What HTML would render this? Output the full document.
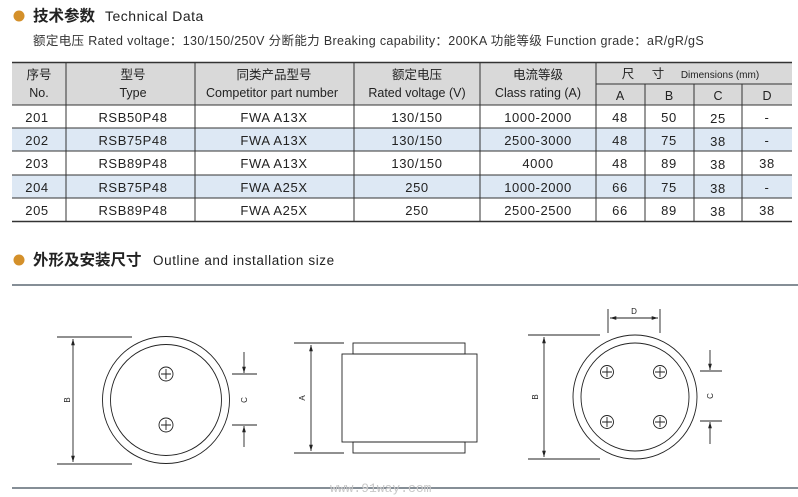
<!DOCTYPE html>
<html><head><meta charset="utf-8"><style>
html,body{margin:0;padding:0;background:#fff;}
svg{display:block;font-family:"Liberation Sans","Noto Sans CJK SC",sans-serif;}
</style></head><body>
<svg width="798" height="497" viewBox="0 0 798 497" xmlns="http://www.w3.org/2000/svg">
<defs>
<marker id="ar" viewBox="0 0 10 10" refX="10" refY="5" markerWidth="7" markerHeight="7" orient="auto-start-reverse"><path d="M0,2 L10,5 L0,8 z" fill="#222"/></marker>
</defs>
<circle cx="19" cy="16" r="5.5" fill="#d4902a"/>
<text x="33" y="21" font-size="15.5" font-weight="bold" fill="#222">技术参数</text>
<text x="105" y="21" font-size="14" fill="#222" letter-spacing="0.5">Technical  Data</text>
<text x="33" y="45" font-size="12.5" fill="#333" letter-spacing="0.35">额定电压 Rated voltage：130/150/250V  分断能力 Breaking capability：200KA  功能等级 Function grade：aR/gR/gS</text>

<rect x="12" y="62" width="780" height="43" fill="#d9d9d9"/>
<rect x="12" y="128" width="780" height="23" fill="#dde8f4"/>
<rect x="12" y="175" width="780" height="23" fill="#dde8f4"/>
<g stroke="#333" stroke-width="1">
<line x1="12" y1="62.5" x2="792" y2="62.5" stroke-width="1.5"/>
<line x1="12" y1="105" x2="792" y2="105"/>
<line x1="12" y1="128" x2="792" y2="128"/>
<line x1="12" y1="151" x2="792" y2="151"/>
<line x1="12" y1="175" x2="792" y2="175"/>
<line x1="12" y1="198" x2="792" y2="198"/>
<line x1="12" y1="221.5" x2="792" y2="221.5" stroke-width="1.5"/>
<line x1="596" y1="84" x2="792" y2="84"/>
<line x1="66" y1="62" x2="66" y2="222"/>
<line x1="195" y1="62" x2="195" y2="222"/>
<line x1="354" y1="62" x2="354" y2="222"/>
<line x1="480" y1="62" x2="480" y2="222"/>
<line x1="596" y1="62" x2="596" y2="222"/>
<line x1="645" y1="84" x2="645" y2="222"/>
<line x1="694" y1="84" x2="694" y2="222"/>
<line x1="742" y1="84" x2="742" y2="222"/>
</g>
<g font-size="12.5" fill="#222" text-anchor="middle">
<text x="39" y="79">序号</text><text x="39" y="97">No.</text>
<text x="133" y="79">型号</text><text x="133" y="97">Type</text>
<text x="274" y="79">同类产品型号</text><text x="272" y="97">Competitor part number</text>
<text x="417" y="79">额定电压</text><text x="417" y="97">Rated voltage (V)</text>
<text x="538" y="79">电流等级</text><text x="538" y="97">Class rating (A)</text>
<text x="628" y="78">尺</text><text x="658" y="78">寸</text>
<text x="720" y="78" font-size="10">Dimensions (mm)</text>
<text x="620" y="100">A</text><text x="669" y="100">B</text><text x="718" y="100">C</text><text x="767" y="100">D</text>
</g>
<g font-size="13" fill="#222" text-anchor="middle" letter-spacing="0.6">
<text x="37" y="122">201</text><text x="133" y="122">RSB50P48</text><text x="274" y="122">FWA A13X</text><text x="417" y="122">130/150</text><text x="538" y="122">1000-2000</text><text x="620" y="122">48</text><text x="669" y="122">50</text><text x="718" y="123">25</text><text x="767" y="122">-</text>
<text x="37" y="145">202</text><text x="133" y="145">RSB75P48</text><text x="274" y="145">FWA A13X</text><text x="417" y="145">130/150</text><text x="538" y="145">2500-3000</text><text x="620" y="145">48</text><text x="669" y="145">75</text><text x="718" y="146">38</text><text x="767" y="145">-</text>
<text x="37" y="168">203</text><text x="133" y="168">RSB89P48</text><text x="274" y="168">FWA A13X</text><text x="417" y="168">130/150</text><text x="538" y="168">4000</text><text x="620" y="168">48</text><text x="669" y="168">89</text><text x="718" y="169">38</text><text x="767" y="168">38</text>
<text x="37" y="192">204</text><text x="133" y="192">RSB75P48</text><text x="274" y="192">FWA A25X</text><text x="417" y="192">250</text><text x="538" y="192">1000-2000</text><text x="620" y="192">66</text><text x="669" y="192">75</text><text x="718" y="193">38</text><text x="767" y="192">-</text>
<text x="37" y="215">205</text><text x="133" y="215">RSB89P48</text><text x="274" y="215">FWA A25X</text><text x="417" y="215">250</text><text x="538" y="215">2500-2500</text><text x="620" y="215">66</text><text x="669" y="215">89</text><text x="718" y="216">38</text><text x="767" y="215">38</text>
</g>

<circle cx="19" cy="260" r="5.5" fill="#d4902a"/>
<text x="33" y="265" font-size="15.5" font-weight="bold" fill="#222">外形及安装尺寸</text>
<text x="153" y="265" font-size="13.5" fill="#222" letter-spacing="0.6">Outline  and  installation size</text>

<line x1="12" y1="285" x2="798" y2="285" stroke="#3c4a58" stroke-width="1.2"/>
<line x1="12" y1="488" x2="798" y2="488" stroke="#3c4a58" stroke-width="1.2"/>

<g stroke="#222" stroke-width="0.9" fill="none">
<circle cx="166" cy="400" r="63.5"/>
<circle cx="166" cy="400" r="55.5"/>
<circle cx="166" cy="374" r="7"/><path d="M161,374h10M166,369v10"/>
<circle cx="166" cy="425" r="7"/><path d="M161,425h10M166,420v10"/>
<path d="M57,337h75M57,464h75"/>
<line x1="73" y1="339" x2="73" y2="462" marker-start="url(#ar)" marker-end="url(#ar)"/>
<path d="M232,374h25M232,425h25"/>
<line x1="244" y1="352" x2="244" y2="373" marker-end="url(#ar)"/>
<line x1="244" y1="447" x2="244" y2="426" marker-end="url(#ar)"/>
<path d="M294,343h50M294,453h50"/>
<line x1="311" y1="345" x2="311" y2="451" marker-start="url(#ar)" marker-end="url(#ar)"/>
<rect x="353" y="343" width="112" height="11"/>
<rect x="342" y="354" width="135" height="88"/>
<rect x="353" y="442" width="112" height="11"/>
<circle cx="635" cy="397" r="62"/>
<circle cx="635" cy="397" r="54"/>
<circle cx="607" cy="372" r="6.5"/><path d="M602,372h10M607,367v10"/>
<circle cx="660" cy="372" r="6.5"/><path d="M655,372h10M660,367v10"/>
<circle cx="607" cy="422" r="6.5"/><path d="M602,422h10M607,417v10"/>
<circle cx="660" cy="422" r="6.5"/><path d="M655,422h10M660,417v10"/>
<path d="M528,335h72M528,459h72"/>
<line x1="544" y1="337" x2="544" y2="457" marker-start="url(#ar)" marker-end="url(#ar)"/>
<path d="M608,309v24M660,309v24"/>
<line x1="610" y1="318" x2="658" y2="318" marker-start="url(#ar)" marker-end="url(#ar)"/>
<path d="M700,371h22M700,421h22"/>
<line x1="710" y1="350" x2="710" y2="370" marker-end="url(#ar)"/>
<line x1="710" y1="444" x2="710" y2="422" marker-end="url(#ar)"/>
</g>
<g font-size="8" fill="#222" text-anchor="middle">
<text transform="translate(70,400) rotate(-90)">B</text>
<text transform="translate(247,400) rotate(-90)">C</text>
<text transform="translate(305,398) rotate(-90)">A</text>
<text transform="translate(538,397) rotate(-90)">B</text>
<text transform="translate(713,396) rotate(-90)">C</text>
<text x="634" y="314">D</text>
</g>
<text x="330" y="492" font-size="13" fill="#c8c8c8" font-family="Liberation Mono,monospace">www.91way.com</text>
</svg>
</body></html>
